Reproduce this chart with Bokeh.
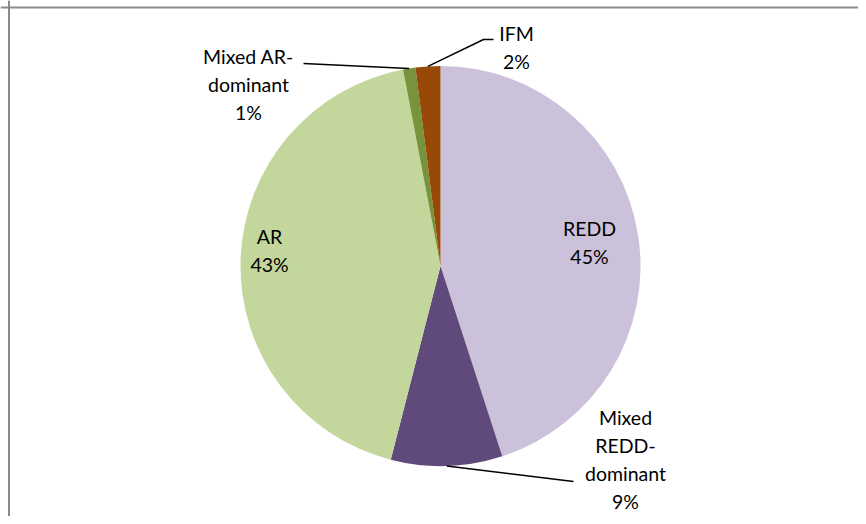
import math
from bokeh.plotting import figure
from bokeh.models import Range1d, ColumnDataSource, Span
from bokeh.core.properties import value
from bokeh.embed import file_html
from bokeh.resources import INLINE

# ---- data ----
categories = ["REDD", "Mixed REDD-dominant", "AR", "Mixed AR-dominant", "IFM"]
shares = [45, 9, 43, 1, 2]
label_texts = ["REDD\n45%", "Mixed\nREDD-\ndominant\n9%", "AR\n43%", "Mixed AR-\ndominant\n1%", "IFM\n2%"]
colors = ["#CCC1DA", "#604A7B", "#C3D69B", "#77933C", "#984807"]

# label centres (pixel coords from top-left) and leader-line label ends
label_x = [589, 625, 269, 248, 516]
label_y = [242, 459, 250, 84, 47]
leader = {1: [(573, 481)], 3: [(303, 63)], 4: [(483, 39), (493, 39)]}

W, H = 858, 516
def Y(yimg):
    return H - yimg

p = figure(width=W, height=H, output_backend="svg", toolbar_location=None,
           x_range=Range1d(0, W), y_range=Range1d(0, H),
           min_border=0)
p.axis.visible = False
p.grid.visible = False
p.outline_line_color = None
p.background_fill_color = "white"
p.border_fill_color = "white"

cx, cy, r = 440, Y(265.5), 200
total = sum(shares)
starts, ends, mids = [], [], []
cum = 0.0
for s in shares:
    a0 = math.pi / 2 - 2 * math.pi * cum / total
    cum += s
    a1 = math.pi / 2 - 2 * math.pi * cum / total
    starts.append(a0)
    ends.append(a1)
    mids.append((a0 + a1) / 2)

src = ColumnDataSource(dict(start=starts, end=ends, color=colors, cat=categories))
p.wedge(x=cx, y=cy, radius=r, start_angle="start", end_angle="end",
        direction="clock", fill_color="color", line_color=None, source=src)

# leader lines
xs, ys = [], []
for i, pts in leader.items():
    sx = cx + r * math.cos(mids[i])
    sy = cy + r * math.sin(mids[i])
    xs.append([sx] + [q[0] for q in pts])
    ys.append([sy] + [Y(q[1]) for q in pts])
p.multi_line(xs=xs, ys=ys, line_color="black", line_width=1.5)

lsrc = ColumnDataSource(dict(x=label_x, y=[Y(v) for v in label_y], t=label_texts))
p.text(x="x", y="y", text="t", source=lsrc, text_align="center", text_baseline="middle",
       text_font=value("Lato"), text_font_size="19.5px", text_color="black",
       text_line_height=1.22)

# chart frame (left/top visible)
p.add_layout(Span(location=8.5, dimension="height", line_color="#8a8a8a", line_width=2))
p.add_layout(Span(location=Y(7), dimension="width", line_color="#8a8a8a", line_width=2))

open("out.html", "w").write(file_html(p, INLINE))
